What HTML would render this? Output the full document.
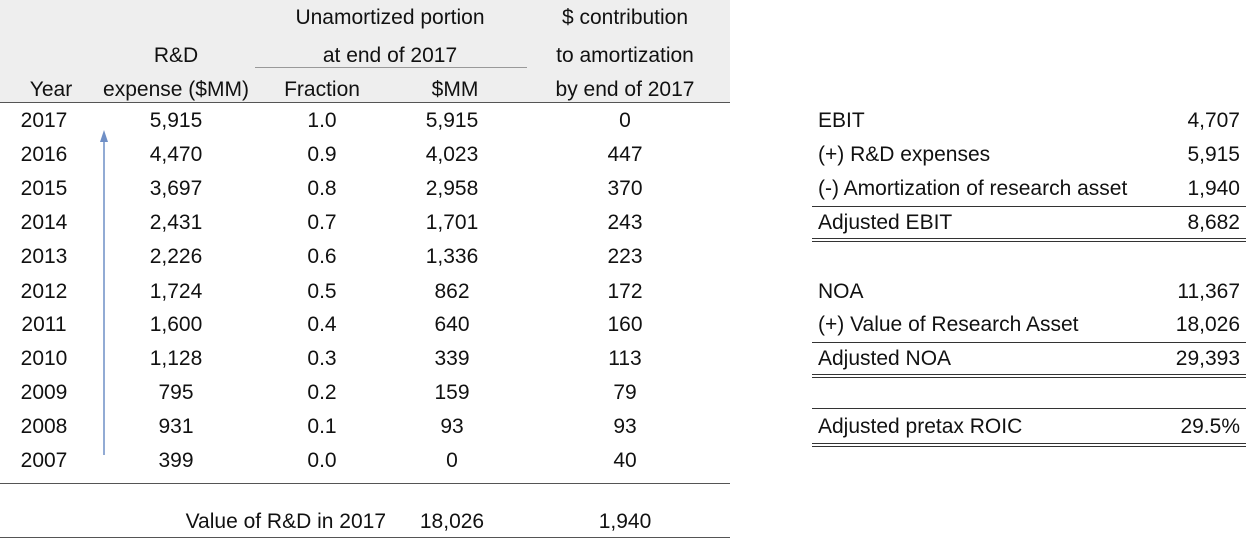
<!DOCTYPE html>
<html><head><meta charset="utf-8"><style>
body{margin:0;width:1246px;height:538px;background:#fff;position:relative;overflow:hidden;font-family:"Liberation Sans",Arial,sans-serif;font-size:21px;color:#111}
.t{position:absolute;white-space:nowrap;line-height:22px;transform:translateY(-11px)}
.c{transform:translate(-50%,-11px)}
.r{transform:translate(-100%,-11px)}
.ln{position:absolute;height:1px;background:#333}
</style></head><body>
<div style="position:absolute;left:0;top:0;width:730px;height:103px;background:#eeeeee"></div>
<div class="ln" style="left:0;top:102px;width:730px;background:#555"></div>
<div class="ln" style="left:255px;top:67px;width:272px;background:#999"></div>
<div class="t c" style="left:390px;top:18px">Unamortized portion</div>
<div class="t c" style="left:390px;top:56px">at end of 2017</div>
<div class="t c" style="left:625px;top:18px">$ contribution</div>
<div class="t c" style="left:625px;top:56px">to amortization</div>
<div class="t c" style="left:625px;top:90px">by end of 2017</div>
<div class="t c" style="left:176px;top:56px">R&amp;D</div>
<div class="t c" style="left:176px;top:90px">expense ($MM)</div>
<div class="t c" style="left:51px;top:90px">Year</div>
<div class="t c" style="left:322px;top:90px">Fraction</div>
<div class="t c" style="left:455px;top:90px">$MM</div>
<div id="rows"></div>
<svg style="position:absolute;left:0;top:0" width="1246" height="538"><line x1="104" y1="455" x2="104" y2="140" stroke="#6f8fc6" stroke-width="1.5"/><polygon points="104,130 100,142 108,142" fill="#6f8fc6"/></svg>
<div class="ln" style="left:0;top:483px;width:730px;background:#555"></div>
<div class="t r" style="left:386px;top:522px">Value of R&amp;D in 2017</div>
<div class="t c" style="left:452px;top:522px">18,026</div>
<div class="t c" style="left:625px;top:522px">1,940</div>
<div class="ln" style="left:0;top:537px;width:730px;background:#555"></div>
<div id="right"></div>
<script>
const years=["2017","2016","2015","2014","2013","2012","2011","2010","2009","2008","2007"];
const rdExpense=["5,915","4,470","3,697","2,431","2,226","1,724","1,600","1,128","795","931","399"];
const fractions=["1.0","0.9","0.8","0.7","0.6","0.5","0.4","0.3","0.2","0.1","0.0"];
const unamortized=["5,915","4,023","2,958","1,701","1,336","862","640","339","159","93","0"];
const contribution=["0","447","370","243","223","172","160","113","79","93","40"];
const rightLabels=["EBIT","(+) R&D expenses","(-) Amortization of research asset","Adjusted EBIT","NOA","(+) Value of Research Asset","Adjusted NOA","Adjusted pretax ROIC"];
const rightValues=["4,707","5,915","1,940","8,682","11,367","18,026","29,393","29.5%"];
const rowY=[121,155,189,223,257,292,325,359,393,427,461];
const rightY=[121,155,189,223,292,325,359,427];
const rows=document.getElementById('rows');
function cell(parent,txt,x,y,cls,name){const d=document.createElement('div');d.className='t '+cls;d.textContent=txt;d.style.left=x+'px';d.style.top=y+'px';


parent.appendChild(d);}
years.forEach((y,i)=>{const Y=rowY[i];
cell(rows,y,44,Y,'c','year-'+y);
cell(rows,rdExpense[i],176,Y,'c','rd-expense-'+y);
cell(rows,fractions[i],322,Y,'c','fraction-'+y);
cell(rows,unamortized[i],452,Y,'c','unamortized-'+y);
cell(rows,contribution[i],625,Y,'c','contribution-'+y);});
const right=document.getElementById('right');
rightLabels.forEach((l,i)=>{cell(right,l,818,rightY[i],'','right-label-'+i);cell(right,rightValues[i],1240,rightY[i],'r','right-value-'+i);});
function rule(y,name){const d=document.createElement('div');d.className='ln';d.style.left='812px';d.style.top=y+'px';d.style.width='434px';


right.appendChild(d);}
rule(206,'ebit-rule');rule(238,'adj-ebit-rule-1');rule(241,'adj-ebit-rule-2');
rule(342,'noa-rule');rule(374,'adj-noa-rule-1');rule(377,'adj-noa-rule-2');
rule(408,'roic-top-rule');rule(443,'roic-rule-1');rule(446,'roic-rule-2');
</script>
</body></html>
